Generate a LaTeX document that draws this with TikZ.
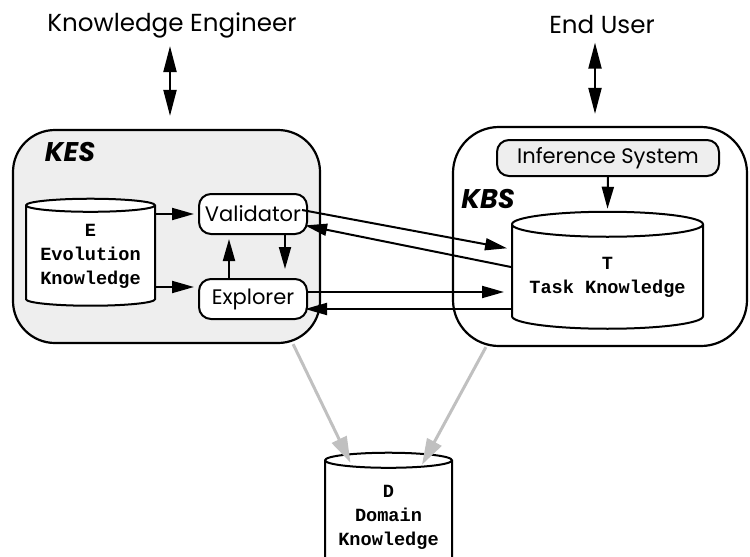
\documentclass[tikz,border=0pt]{standalone}
\usepackage{fontspec}
\usetikzlibrary{shapes.geometric,arrows.meta,calc}
\newfontfamily\gfont{Poppins}
\newfontfamily\cfont{Liberation Mono}
\definecolor{boxgray}{HTML}{EEEEEE}
\definecolor{linkgray}{HTML}{C0C0C0}
\tikzset{
  sysbox/.style={draw,line width=1.1pt,rounded corners=21pt},
  modbox/.style={draw,line width=1pt,rounded corners=6pt,fill=white,
    minimum width=54pt,minimum height=20pt,inner sep=0pt,
    font=\gfont\fontsize{10.5}{12}\selectfont},
  cyl/.style={draw,line width=1pt,fill=white,cylinder,shape border rotate=90,
    shape aspect=0.13,inner sep=0pt,align=center,
    font=\cfont\bfseries\fontsize{9.3}{12}\selectfont},
  arr/.style={line width=1pt,-{Triangle[length=11pt,width=6pt]}},
  dbl/.style={line width=1pt,{Triangle[length=13pt,width=6.5pt]}-{Triangle[length=13pt,width=6.5pt]}},
  gray arr/.style={line width=1.5pt,draw=linkgray,-{Triangle[length=13pt,width=8pt]},linkgray},
  actor/.style={font=\gfont\fontsize{12.3}{14}\selectfont,inner sep=1pt},
  syslab/.style={font=\gfont\bfseries\itshape\fontsize{13.5}{15}\selectfont}
}
\begin{document}
\begin{tikzpicture}[x=0.5pt,y=-0.5pt]
\useasboundingbox (0,0) rectangle (750,557);
\clip (0,0) rectangle (750,557);
% actors
\node[actor] (ke) at (172,25) {Knowledge Engineer};
\node[actor] (eu) at (602,25) {End User};
% the two systems
\node[sysbox,fill=boxgray,minimum width=153.5pt,minimum height=106.5pt] (kes) at (166.5,236.5) {};
\node[sysbox,minimum width=147pt,minimum height=109.5pt,rounded corners=23pt] (kbs) at (600,236.5) {};
\node[syslab] (keslab) at (70,152) {KES};
\node[syslab] (kbslab) at (488,199) {KBS};
% inside KES
\node[cyl,minimum width=64.5pt,minimum height=53.5pt] (E) at (90.5,256) {E\\Evolution\\Knowledge};
\node[modbox] (val) at (253,214) {Validator};
\node[modbox] (exp) at (253,299) {Explorer};
% inside KBS
\node[modbox,fill=boxgray,minimum width=111pt,minimum height=18pt] (inf) at (608,158) {Inference System};
\node[cyl,shape aspect=0.16,minimum width=95.5pt,minimum height=58.5pt] (T) at (607.5,277) {T\\Task Knowledge};
% domain
\node[cyl,shape aspect=0.15,minimum width=63.5pt,minimum height=60pt] (D) at (388.5,517) {D\\Domain\\Knowledge};
% users
\draw[dbl,shorten <=3pt,shorten >=6.5pt] (ke.south -| 170,0) -- (kes.north -| 170,0);
\draw[dbl,shorten <=3pt,shorten >=6pt] (eu.south -| 595,0) -- (kbs.north -| 595,0);
% KES links
\draw[arr,shorten >=2pt] (E.east |- val.west) -- (val.west);
\draw[arr,shorten >=2pt] ([yshift=6pt]E.east |- exp.west) -- ([yshift=6pt]exp.west);
\draw[arr,shorten >=2pt] ([xshift=-12pt]exp.north) -- ([xshift=-12pt]val.south);
\draw[arr,shorten >=4.5pt] ([xshift=16pt]val.south) -- ([xshift=16pt]exp.north);
% KES <-> KBS
\draw[arr,shorten >=2pt] ([yshift=2pt,xshift=-3pt]val.east) -- ([yshift=14pt]T.west);
\draw[arr,shorten >=-1.5pt] ([yshift=5pt]T.west) -- ([yshift=-6pt]val.east);
\draw[arr,shorten >=3.5pt] ([yshift=3.5pt]exp.east) -- ([yshift=3.5pt]exp.east -| T.west);
\draw[arr,shorten >=-1.5pt] ([yshift=-5pt]exp.east -| T.west) -- ([yshift=-5pt]exp.east);
\draw[arr,shorten >=1pt] (inf.south) -- (T.north);
% to domain
\draw[gray arr] ([xshift=-14pt]kes.south east) -- ($(D.north)+(-19pt,-5.5pt)$);
\draw[gray arr] ([xshift=17pt]kbs.south west) -- ($(D.north)+(16.75pt,-6.5pt)$);
\end{tikzpicture}
\end{document}
